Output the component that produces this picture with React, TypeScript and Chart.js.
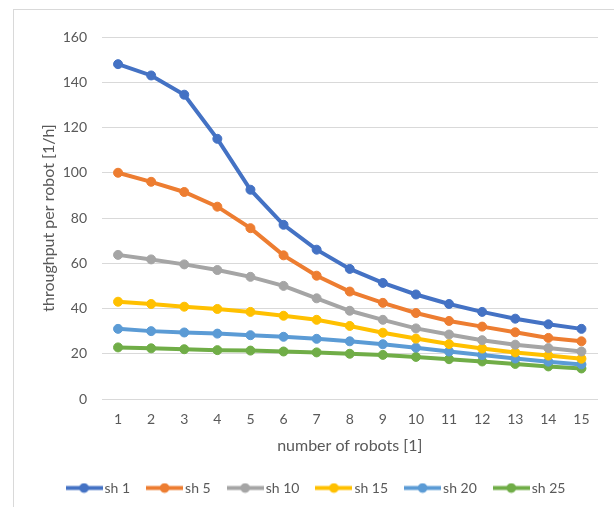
import React, { useEffect, useRef } from "react";
import { Chart, registerables } from "chart.js";

Chart.register(...registerables);

const robots = ["1", "2", "3", "4", "5", "6", "7", "8", "9", "10", "11", "12", "13", "14", "15"];
const sh1 = [148, 143, 134.5, 115, 92.5, 77, 66, 57.5, 51.3, 46.2, 42, 38.5, 35.5, 33, 31];
const sh5 = [100, 96, 91.5, 85, 75.5, 63.5, 54.5, 47.5, 42.5, 38, 34.5, 32, 29.5, 27, 25.5];
const sh10 = [63.7, 61.7, 59.5, 57, 54, 50, 44.5, 39, 35, 31.2, 28.5, 26, 24, 22.5, 21];
const sh15 = [43, 42, 40.8, 39.8, 38.5, 36.8, 35, 32.3, 29.3, 26.7, 24.3, 22.3, 20.6, 19.2, 17.8];
const sh20 = [31, 30, 29.4, 28.9, 28.2, 27.5, 26.6, 25.5, 24.2, 22.7, 21, 19.4, 17.9, 16.5, 15.3];
const sh25 = [22.8, 22.4, 22, 21.6, 21.4, 21, 20.6, 20, 19.5, 18.6, 17.6, 16.6, 15.5, 14.4, 13.5];

const seriesNames = ["sh 1", "sh 5", "sh 10", "sh 15", "sh 20", "sh 25"];
const seriesData = [sh1, sh5, sh10, sh15, sh20, sh25];
const seriesColors = ["#4472C4", "#ED7D31", "#A5A5A5", "#FFC000", "#5B9BD5", "#70AD47"];

const yTicks = { min: 0, max: 160, step: 20 };
const xTitle = "number of robots [1]";
const yTitle = "throughput per robot [1/h]";

const FONT = "Lato";
const TEXT = "#595959";

function legendImage(color: string): HTMLCanvasElement {
  const c = document.createElement("canvas");
  c.width = 37;
  c.height = 11;
  const ctx = c.getContext("2d")!;
  ctx.strokeStyle = color;
  ctx.lineWidth = 4;
  ctx.beginPath();
  ctx.moveTo(0, 5.5);
  ctx.lineTo(37, 5.5);
  ctx.stroke();
  ctx.fillStyle = color;
  ctx.beginPath();
  ctx.arc(18.5, 5.5, 4.8, 0, Math.PI * 2);
  ctx.fill();
  return c;
}

export default function App() {
  const ref = useRef<HTMLCanvasElement | null>(null);

  useEffect(() => {
    if (!ref.current) return;
    const images = seriesColors.map(legendImage);
    const chart = new Chart(ref.current, {
      type: "line",
      data: {
        labels: robots,
        datasets: seriesNames.map((name, i) => ({
          label: name,
          data: seriesData[i],
          borderColor: seriesColors[i],
          backgroundColor: seriesColors[i],
          pointBackgroundColor: seriesColors[i],
          pointBorderColor: seriesColors[i],
          borderWidth: 4,
          pointRadius: 4.5,
          pointBorderWidth: 1,
          tension: 0,
          fill: false,
        })),
      },
      options: {
        animation: false,
        responsive: false,
        maintainAspectRatio: false,
        layout: { padding: { top: 27, right: 22, bottom: 2, left: 24 } },
        plugins: {
          tooltip: { enabled: false },
          legend: {
            position: "bottom",
            labels: {
              usePointStyle: true,
              pointStyleWidth: 27,
              padding: 21,
              color: TEXT,
              font: { family: FONT, size: 14 },
              generateLabels: (ch: any) => {
                const items = Chart.defaults.plugins.legend.labels.generateLabels(ch);
                return items.map((it: any, i: number) => ({ ...it, pointStyle: images[i] }));
              },
            },
          },
        },
        scales: {
          x: {
            offset: true,
            grid: { display: false, drawTicks: false },
            border: { display: false },
            ticks: { color: TEXT, font: { family: FONT, size: 14 }, padding: 12.5, maxRotation: 0 },
            title: {
              display: true,
              text: xTitle,
              color: TEXT,
              font: { family: FONT, size: 16 },
              padding: { top: 0, bottom: 4.4 },
            },
            afterFit: (s: any) => {
              s.height = 61;
            },
          },
          y: {
            min: yTicks.min,
            max: yTicks.max,
            grid: { color: "#D9D9D9", lineWidth: 1, drawTicks: false },
            border: { display: false },
            ticks: { stepSize: yTicks.step, color: TEXT, font: { family: FONT, size: 14 }, padding: 14.5 },
            title: {
              display: true,
              text: yTitle,
              color: TEXT,
              font: { family: FONT, size: 16 },
              padding: { top: 1.4, bottom: 0 },
            },
            afterFit: (s: any) => {
              s.width = 63.5;
            },
          },
        },
      },
    });
    return () => chart.destroy();
  }, []);

  return (
    <div style={{ position: "fixed", left: 0, top: 0, width: 614, height: 507, overflow: "hidden", background: "#fff" }}>
      <div
        style={{
          position: "absolute",
          left: 13,
          top: 9,
          width: 700,
          height: 600,
          border: "1px solid #D9D9D9",
          boxSizing: "border-box",
        }}
      />
      <canvas ref={ref} width={606} height={497} style={{ position: "absolute", left: 14, top: 10, width: 606, height: 497 }} />
    </div>
  );
}
